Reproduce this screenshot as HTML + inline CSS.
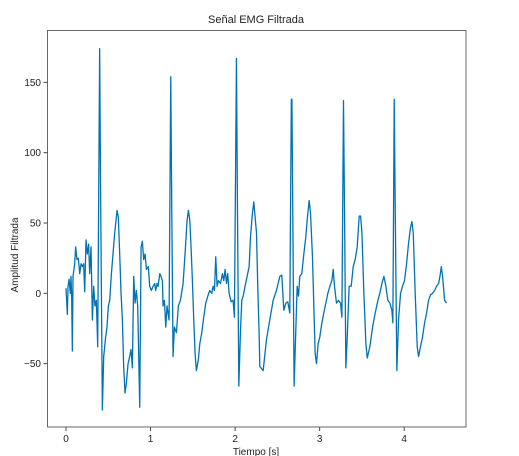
<!DOCTYPE html>
<html><head><meta charset="utf-8"><style>
html,body{margin:0;padding:0;background:#fff;}
svg{display:block;font-family:"Liberation Sans","DejaVu Sans",sans-serif;}
</style></head><body>
<svg id="chart" width="519" height="456">
<text x="256" y="23" text-anchor="middle" font-size="11" fill="#222">Señal EMG Filtrada</text>
<text x="256" y="455" text-anchor="middle" font-size="10" fill="#222">Tiempo [s]</text>
<text transform="translate(18,255) rotate(-90)" text-anchor="middle" font-size="10" fill="#222">Amplitud Filtrada</text>
<g id="ticks"></g>
<path id="signal" fill="none" stroke="#0173b2" stroke-width="1.3" stroke-linejoin="round"/>
<rect x="47.5" y="30.5" width="418.5" height="396.5" fill="none" stroke="#666" stroke-width="1"/>
</svg>
<script>
const xTicks = [0,1,2,3,4];
const yTicks = [-50,0,50,100,150];
const times = [0,0.016,0.024,0.036,0.051,0.059,0.067,0.075,0.083,0.103,0.114,0.130,0.146,0.162,0.178,0.193,0.209,0.221,0.237,0.252,0.268,0.280,0.296,0.312,0.327,0.343,0.359,0.375,0.398,0.410,0.430,0.446,0.469,0.485,0.501,0.517,0.537,0.556,0.576,0.604,0.619,0.635,0.651,0.667,0.682,0.698,0.714,0.734,0.753,0.769,0.785,0.801,0.817,0.832,0.848,0.872,0.888,0.903,0.919,0.935,0.951,0.974,0.990,1.010,1.030,1.049,1.061,1.077,1.089,1.109,1.124,1.140,1.148,1.164,1.180,1.195,1.219,1.239,1.251,1.266,1.282,1.306,1.329,1.353,1.385,1.408,1.432,1.448,1.464,1.479,1.495,1.511,1.527,1.542,1.566,1.582,1.606,1.629,1.653,1.677,1.700,1.724,1.740,1.756,1.771,1.787,1.803,1.827,1.850,1.866,1.882,1.898,1.913,1.929,1.953,1.976,1.992,2.016,2.028,2.044,2.063,2.079,2.095,2.118,2.142,2.166,2.182,2.205,2.221,2.237,2.253,2.268,2.284,2.292,2.332,2.371,2.410,2.450,2.489,2.529,2.552,2.576,2.600,2.623,2.647,2.665,2.672,2.698,2.718,2.734,2.750,2.765,2.789,2.813,2.836,2.852,2.876,2.892,2.915,2.931,2.947,2.963,2.982,3.002,3.026,3.049,3.073,3.097,3.121,3.144,3.160,3.176,3.199,3.223,3.247,3.263,3.282,3.294,3.310,3.325,3.349,3.373,3.397,3.420,3.444,3.468,3.484,3.500,3.523,3.547,3.563,3.594,3.626,3.657,3.689,3.712,3.736,3.760,3.783,3.807,3.831,3.854,3.866,3.882,3.894,3.913,3.933,3.957,3.980,4.004,4.028,4.052,4.075,4.091,4.107,4.130,4.154,4.170,4.193,4.217,4.241,4.265,4.288,4.312,4.336,4.360,4.383,4.407,4.423,4.439,4.454,4.478,4.501];
const values = [3.6,-15,5,10,0,12,-2,-41,12,21,33,24,25,14,21,19,21,1,38,28,35,14,33,-19,5,-9,-5,-38,174,66,-83,-45,-31,-24,-9,-5,14,28,43,59,54,28,0,-19,-52,-71,-64,-50,-45,-40,-53,12,-7,2,-9,-81,33,37,24,28,17,19,5,2,5,7,2,7,5,14,12,9,-9,-5,-24,-9,-19,154,60,-45,-24,-28,-9,-5,7,28,52,59,52,33,9,-19,-43,-55,-47,-36,-28,-17,-7,-2,2,0,5,2,26,5,9,7,14,9,17,7,14,0,-6,-5,-17,167,60,-66,-28,-5,-2,5,12,19,40,57,65,54,43,5,-28,-52,-55,-33,-19,-5,2,12,13,-12,-7,-6,-14,138,138,-66,-26,5,-2,12,14,28,40,52,66,57,26,-9,-43,-50,-36,-31,-21,-14,-7,0,5,9,17,5,-7,-5,-7,-17,137,60,-53,-33,5,5,19,24,33,55,55,43,0,-36,-46,-38,-24,-14,-5,0,7,12,5,-5,-7,-12,-21,138,60,-55,-19,0,5,9,21,36,47,51,43,0,-38,-45,-38,-31,-21,-14,-5,-1,0,2,5,7,12,19,12,-5,-7];

const xScale = t => 66 + t*84.55;
const yScale = v => 293.3 - v*1.406;
const g = document.getElementById('ticks');
const NS = 'http://www.w3.org/2000/svg';
xTicks.forEach(t => {
  const x = xScale(t);
  const l = document.createElementNS(NS,'line');
  l.setAttribute('x1',x);l.setAttribute('x2',x);l.setAttribute('y1',427);l.setAttribute('y2',431);
  l.setAttribute('stroke','#444');
  
  
  g.appendChild(l);
  const tx = document.createElementNS(NS,'text');
  tx.setAttribute('x',x);tx.setAttribute('y',442);tx.setAttribute('text-anchor','middle');
  tx.setAttribute('font-size','10');tx.setAttribute('fill','#222');
  tx.textContent = t;
  
  
  g.appendChild(tx);
});
yTicks.forEach(v => {
  const y = yScale(v);
  const l = document.createElementNS(NS,'line');
  l.setAttribute('x1',43.5);l.setAttribute('x2',47.5);l.setAttribute('y1',y);l.setAttribute('y2',y);
  l.setAttribute('stroke','#444');
  
  
  g.appendChild(l);
  const tx = document.createElementNS(NS,'text');
  tx.setAttribute('x',41);tx.setAttribute('y',y+3.5);tx.setAttribute('text-anchor','end');
  tx.setAttribute('font-size','10');tx.setAttribute('fill','#222');
  tx.textContent = v < 0 ? '\u2212' + Math.abs(v) : v;
  
  
  g.appendChild(tx);
});
let d = '';
times.forEach((t,i) => { d += (i ? 'L' : 'M') + xScale(t).toFixed(2) + ',' + yScale(values[i]).toFixed(2); });
document.getElementById('signal').setAttribute('d', d);
</script>
</body></html>
